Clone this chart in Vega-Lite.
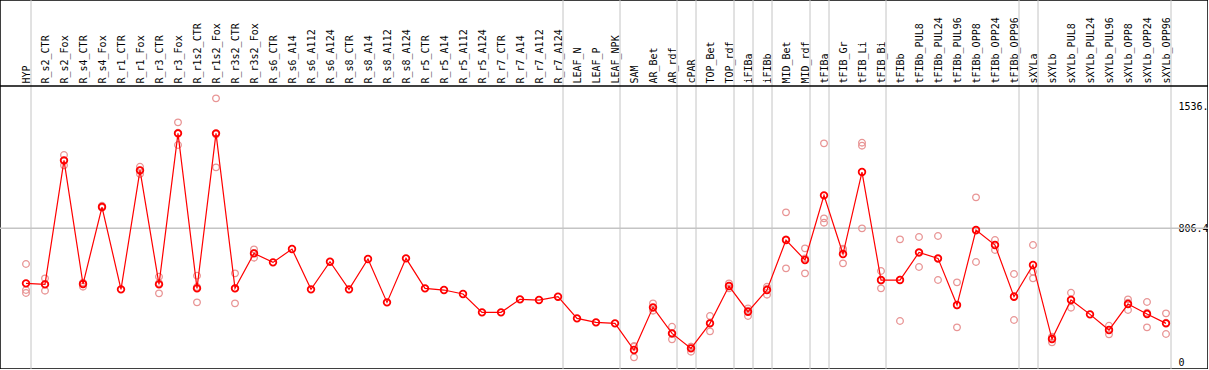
{
  "$schema": "https://vega.github.io/schema/vega-lite/v6.json",
  "width": 1208,
  "height": 369,
  "autosize": {"type": "none"},
  "padding": 0,
  "background": "white",
  "config": {"view": {"stroke": "black", "strokeWidth": 1.5}},
  "datasets": {
    "means": [
      {"sample": "HYP", "value": 476}, {"sample": "R_s2_CTR", "value": 470}, {"sample": "R_s2_Fox", "value": 1214},
      {"sample": "R_s4_CTR", "value": 472}, {"sample": "R_s4_Fox", "value": 934}, {"sample": "R_r1_CTR", "value": 440},
      {"sample": "R_r1_Fox", "value": 1154}, {"sample": "R_r3_CTR", "value": 470}, {"sample": "R_r3_Fox", "value": 1376},
      {"sample": "R_r1s2_CTR", "value": 446}, {"sample": "R_r1s2_Fox", "value": 1376}, {"sample": "R_r3s2_CTR", "value": 446},
      {"sample": "R_r3s2_Fox", "value": 656}, {"sample": "R_s6_CTR", "value": 602}, {"sample": "R_s6_A14", "value": 682},
      {"sample": "R_s6_A112", "value": 440}, {"sample": "R_s6_A124", "value": 606}, {"sample": "R_s8_CTR", "value": 440},
      {"sample": "R_s8_A14", "value": 622}, {"sample": "R_s8_A112", "value": 362}, {"sample": "R_s8_A124", "value": 626},
      {"sample": "R_r5_CTR", "value": 446}, {"sample": "R_r5_A14", "value": 436}, {"sample": "R_r5_A112", "value": 412},
      {"sample": "R_r5_A124", "value": 302}, {"sample": "R_r7_CTR", "value": 302}, {"sample": "R_r7_A14", "value": 380},
      {"sample": "R_r7_A112", "value": 376}, {"sample": "R_r7_A124", "value": 396}, {"sample": "LEAF_N", "value": 266},
      {"sample": "LEAF_P", "value": 242}, {"sample": "LEAF_NPK", "value": 236}, {"sample": "SAM", "value": 76},
      {"sample": "AR_Bet", "value": 332}, {"sample": "AR_rdf", "value": 176}, {"sample": "cPAR", "value": 86},
      {"sample": "TOP_Bet", "value": 236}, {"sample": "TOP_rdf", "value": 460}, {"sample": "iFIBa", "value": 306},
      {"sample": "iFIBb", "value": 436}, {"sample": "MID_Bet", "value": 736}, {"sample": "MID_rdf", "value": 616},
      {"sample": "tFIBa", "value": 1004}, {"sample": "tFIB_Gr", "value": 652}, {"sample": "tFIB_Li", "value": 1144},
      {"sample": "tFIB_Bi", "value": 496}, {"sample": "tFIBb", "value": 496}, {"sample": "tFIBb_PUL8", "value": 662},
      {"sample": "tFIBb_PUL24", "value": 626}, {"sample": "tFIBb_PUL96", "value": 346}, {"sample": "tFIBb_OPP8", "value": 796},
      {"sample": "tFIBb_OPP24", "value": 706}, {"sample": "tFIBb_OPP96", "value": 396}, {"sample": "sXYLa", "value": 586},
      {"sample": "sXYLb", "value": 142}, {"sample": "sXYLb_PUL8", "value": 376}, {"sample": "sXYLb_PUL24", "value": 290},
      {"sample": "sXYLb_PUL96", "value": 196}, {"sample": "sXYLb_OPP8", "value": 352}, {"sample": "sXYLb_OPP24", "value": 292},
      {"sample": "sXYLb_OPP96", "value": 236}
    ],
    "reps": [
      {"sample": "HYP", "value": 592}, {"sample": "HYP", "value": 436}, {"sample": "HYP", "value": 418},
      {"sample": "R_s2_CTR", "value": 506}, {"sample": "R_s2_CTR", "value": 432}, {"sample": "R_s2_CTR", "value": 472},
      {"sample": "R_s2_Fox", "value": 1246}, {"sample": "R_s2_Fox", "value": 1184}, {"sample": "R_s2_Fox", "value": 1212},
      {"sample": "R_s4_CTR", "value": 480}, {"sample": "R_s4_CTR", "value": 456}, {"sample": "R_s4_CTR", "value": 478},
      {"sample": "R_s4_Fox", "value": 942}, {"sample": "R_s4_Fox", "value": 930},
      {"sample": "R_r1_Fox", "value": 1176}, {"sample": "R_r1_Fox", "value": 1132}, {"sample": "R_r1_Fox", "value": 1154},
      {"sample": "R_r3_CTR", "value": 516}, {"sample": "R_r3_CTR", "value": 416}, {"sample": "R_r3_CTR", "value": 478},
      {"sample": "R_r3_Fox", "value": 1442}, {"sample": "R_r3_Fox", "value": 1306}, {"sample": "R_r3_Fox", "value": 1380},
      {"sample": "R_r1s2_CTR", "value": 522}, {"sample": "R_r1s2_CTR", "value": 362}, {"sample": "R_r1s2_CTR", "value": 454},
      {"sample": "R_r1s2_Fox", "value": 1586}, {"sample": "R_r1s2_Fox", "value": 1172}, {"sample": "R_r1s2_Fox", "value": 1370},
      {"sample": "R_r3s2_CTR", "value": 536}, {"sample": "R_r3s2_CTR", "value": 356}, {"sample": "R_r3s2_CTR", "value": 446},
      {"sample": "R_r3s2_Fox", "value": 680}, {"sample": "R_r3s2_Fox", "value": 630}, {"sample": "R_r3s2_Fox", "value": 658},
      {"sample": "SAM", "value": 100}, {"sample": "SAM", "value": 32}, {"sample": "SAM", "value": 96},
      {"sample": "AR_Bet", "value": 356}, {"sample": "AR_Bet", "value": 312}, {"sample": "AR_Bet", "value": 328},
      {"sample": "AR_rdf", "value": 216}, {"sample": "AR_rdf", "value": 140}, {"sample": "AR_rdf", "value": 172},
      {"sample": "cPAR", "value": 66}, {"sample": "cPAR", "value": 96}, {"sample": "cPAR", "value": 96},
      {"sample": "TOP_Bet", "value": 280}, {"sample": "TOP_Bet", "value": 188}, {"sample": "TOP_Bet", "value": 240},
      {"sample": "TOP_rdf", "value": 476}, {"sample": "TOP_rdf", "value": 446}, {"sample": "TOP_rdf", "value": 458},
      {"sample": "iFIBa", "value": 326}, {"sample": "iFIBa", "value": 280}, {"sample": "iFIBa", "value": 312},
      {"sample": "iFIBb", "value": 456}, {"sample": "iFIBb", "value": 408}, {"sample": "iFIBb", "value": 444},
      {"sample": "MID_Bet", "value": 902}, {"sample": "MID_Bet", "value": 566}, {"sample": "MID_Bet", "value": 740},
      {"sample": "MID_rdf", "value": 686}, {"sample": "MID_rdf", "value": 536}, {"sample": "MID_rdf", "value": 626},
      {"sample": "tFIBa", "value": 1316}, {"sample": "tFIBa", "value": 866}, {"sample": "tFIBa", "value": 840},
      {"sample": "tFIB_Gr", "value": 676}, {"sample": "tFIB_Gr", "value": 596}, {"sample": "tFIB_Gr", "value": 684},
      {"sample": "tFIB_Li", "value": 1320}, {"sample": "tFIB_Li", "value": 1302}, {"sample": "tFIB_Li", "value": 806},
      {"sample": "tFIB_Bi", "value": 550}, {"sample": "tFIB_Bi", "value": 446}, {"sample": "tFIB_Bi", "value": 492},
      {"sample": "tFIBb", "value": 740}, {"sample": "tFIBb", "value": 250}, {"sample": "tFIBb", "value": 498},
      {"sample": "tFIBb_PUL8", "value": 754}, {"sample": "tFIBb_PUL8", "value": 574}, {"sample": "tFIBb_PUL8", "value": 658},
      {"sample": "tFIBb_PUL24", "value": 760}, {"sample": "tFIBb_PUL24", "value": 496}, {"sample": "tFIBb_PUL24", "value": 622},
      {"sample": "tFIBb_PUL96", "value": 482}, {"sample": "tFIBb_PUL96", "value": 212}, {"sample": "tFIBb_PUL96", "value": 344},
      {"sample": "tFIBb_OPP8", "value": 992}, {"sample": "tFIBb_OPP8", "value": 604}, {"sample": "tFIBb_OPP8", "value": 792},
      {"sample": "tFIBb_OPP24", "value": 736}, {"sample": "tFIBb_OPP24", "value": 676}, {"sample": "tFIBb_OPP24", "value": 706},
      {"sample": "tFIBb_OPP96", "value": 532}, {"sample": "tFIBb_OPP96", "value": 256}, {"sample": "tFIBb_OPP96", "value": 400},
      {"sample": "sXYLa", "value": 706}, {"sample": "sXYLa", "value": 546}, {"sample": "sXYLa", "value": 506},
      {"sample": "sXYLb", "value": 156}, {"sample": "sXYLb", "value": 122}, {"sample": "sXYLb", "value": 148},
      {"sample": "sXYLb_PUL8", "value": 420}, {"sample": "sXYLb_PUL8", "value": 330}, {"sample": "sXYLb_PUL8", "value": 378},
      {"sample": "sXYLb_PUL96", "value": 222}, {"sample": "sXYLb_PUL96", "value": 170}, {"sample": "sXYLb_PUL96", "value": 196},
      {"sample": "sXYLb_OPP8", "value": 380}, {"sample": "sXYLb_OPP8", "value": 316}, {"sample": "sXYLb_OPP8", "value": 360},
      {"sample": "sXYLb_OPP24", "value": 364}, {"sample": "sXYLb_OPP24", "value": 212}, {"sample": "sXYLb_OPP24", "value": 300},
      {"sample": "sXYLb_OPP96", "value": 296}, {"sample": "sXYLb_OPP96", "value": 172}, {"sample": "sXYLb_OPP96", "value": 240}
    ],
    "seps": [
      {"after": "HYP"}, {"after": "R_r7_A124"}, {"after": "LEAF_NPK"}, {"after": "AR_rdf"}, {"after": "cPAR"},
      {"after": "TOP_rdf"}, {"after": "iFIBa"}, {"after": "iFIBb"}, {"after": "MID_rdf"}, {"after": "tFIBa"},
      {"after": "tFIB_Bi"}, {"after": "tFIBb_OPP96"}, {"after": "sXYLa"}, {"after": "sXYLb_OPP96"}
    ],
    "levels": [
      {"level": 806.4, "kind": "grid"},
      {"level": 1660.2, "kind": "header"}
    ]
  },
  "layer": [
    {
      "data": {"name": "seps"},
      "mark": {"type": "rule", "color": "#c4c4c4", "strokeWidth": 1, "xOffset": 5},
      "encoding": {
        "x": {
          "field": "after", "type": "ordinal",
          "scale": {
            "domain": ["HYP","R_s2_CTR","R_s2_Fox","R_s4_CTR","R_s4_Fox","R_r1_CTR","R_r1_Fox","R_r3_CTR","R_r3_Fox","R_r1s2_CTR","R_r1s2_Fox","R_r3s2_CTR","R_r3s2_Fox","R_s6_CTR","R_s6_A14","R_s6_A112","R_s6_A124","R_s8_CTR","R_s8_A14","R_s8_A112","R_s8_A124","R_r5_CTR","R_r5_A14","R_r5_A112","R_r5_A124","R_r7_CTR","R_r7_A14","R_r7_A112","R_r7_A124","LEAF_N","LEAF_P","LEAF_NPK","SAM","AR_Bet","AR_rdf","cPAR","TOP_Bet","TOP_rdf","iFIBa","iFIBb","MID_Bet","MID_rdf","tFIBa","tFIB_Gr","tFIB_Li","tFIB_Bi","tFIBb","tFIBb_PUL8","tFIBb_PUL24","tFIBb_PUL96","tFIBb_OPP8","tFIBb_OPP24","tFIBb_OPP96","sXYLa","sXYLb","sXYLb_PUL8","sXYLb_PUL24","sXYLb_PUL96","sXYLb_OPP8","sXYLb_OPP24","sXYLb_OPP96"],
            "type": "point", "range": [26, 1166], "padding": 0
          },
          "axis": {
            "orient": "top", "offset": -86, "title": null, "domain": false, "ticks": false, "grid": false,
            "labelAngle": 270, "labelAlign": "left", "labelBaseline": "middle", "labelPadding": 3,
            "labelFont": "DejaVu Sans Mono", "labelFontSize": 10, "labelColor": "black",
            "labelOverlap": false, "labelBound": false, "labelFlush": false
          }
        }
      }
    },
    {
      "mark": {"type": "rule", "color": "#c4c4c4", "strokeWidth": 1, "xOffset": -15},
      "encoding": {"x": {"datum": "HYP", "type": "ordinal"}}
    },
    {
      "data": {"name": "levels"},
      "mark": {"type": "rule", "strokeWidth": 1.5},
      "encoding": {
        "y": {
          "field": "level", "type": "quantitative",
          "scale": {"domain": [-37.8, 2176.2], "nice": false, "zero": false},
          "axis": {
            "orient": "right", "offset": -36, "title": null, "domain": false, "ticks": false, "grid": false,
            "values": [0, 806.4, 1536], "labelPadding": 6, "labelAlign": "left", "labelBaseline": "middle",
            "labelFont": "DejaVu Sans Mono", "labelFontSize": 10, "labelColor": "black",
            "labelExpr": "datum.value == 1536 ? '1536.' : toString(datum.value)"
          }
        },
        "color": {
          "field": "kind", "type": "nominal", "legend": null,
          "scale": {"domain": ["grid", "header"], "range": ["#c4c4c4", "#000000"]}
        }
      }
    },
    {
      "data": {"name": "reps"},
      "mark": {"type": "point", "filled": false, "color": "#e89494", "size": 44, "strokeWidth": 1.3, "opacity": 1},
      "encoding": {
        "x": {"field": "sample", "type": "ordinal"},
        "y": {"field": "value", "type": "quantitative"}
      }
    },
    {
      "data": {"name": "means"},
      "mark": {"type": "line", "color": "red", "strokeWidth": 1.2},
      "encoding": {
        "x": {"field": "sample", "type": "ordinal"},
        "y": {"field": "value", "type": "quantitative"}
      }
    },
    {
      "data": {"name": "means"},
      "mark": {"type": "point", "filled": false, "color": "red", "size": 44, "strokeWidth": 1.8, "opacity": 1},
      "encoding": {
        "x": {"field": "sample", "type": "ordinal"},
        "y": {"field": "value", "type": "quantitative"}
      }
    },
    {
      "mark": {"type": "text", "text": "Lus10034872", "color": "red", "font": "DejaVu Sans Mono", "fontSize": 10, "align": "left", "baseline": "middle", "dx": -16},
      "encoding": {
        "x": {"datum": "HYP", "type": "ordinal"},
        "y": {"datum": 1592, "type": "quantitative"}
      }
    }
  ]
}
